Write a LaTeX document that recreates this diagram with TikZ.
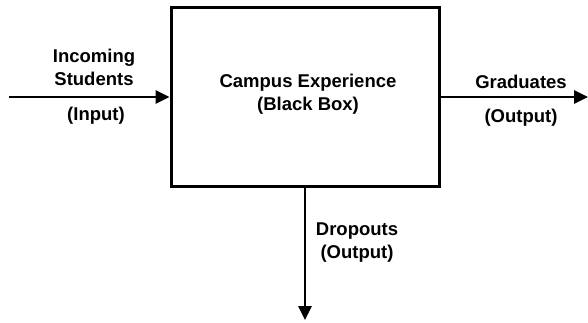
\documentclass[tikz,border=0pt]{standalone}
\usepackage{fontspec}
\setmainfont{Liberation Sans}
\usetikzlibrary{arrows.meta}
\begin{document}
\begin{tikzpicture}[x=1pt,y=-1pt,line width=2.8pt,
  lbl/.style={font=\bfseries\fontsize{18.5}{23}\selectfont,align=center,inner sep=0pt},
  flow/.style={-{Triangle[length=14pt,width=13pt]}}]
\useasboundingbox (0,0) rectangle (588,322);
\node[draw,line width=3pt,minimum width=268pt,minimum height=179pt,inner sep=0pt] (box) at (305,97) {};
\coordinate (in) at (9,97);\coordinate (out) at (588,97);\coordinate (drop) at (305,320);
\draw[flow] (in) -- (box.west);\draw[flow] (box.east) -- (out);\draw[flow] (box.south) -- (drop);
\begin{scope}[every node/.style=lbl]
  \node (campus) at (308,94) {Campus Experience\\(Black Box)};
  \node (incoming) at (94,67) {Incoming\\Students};\node (input) at (96,116) {(Input)};
  \node (grad) at (521,82) {Graduates};\node (gradout) at (521,118) {(Output)};
  \node (dropouts) at (357,243) {Dropouts\\(Output)};
\end{scope}
\end{tikzpicture}
\end{document}
